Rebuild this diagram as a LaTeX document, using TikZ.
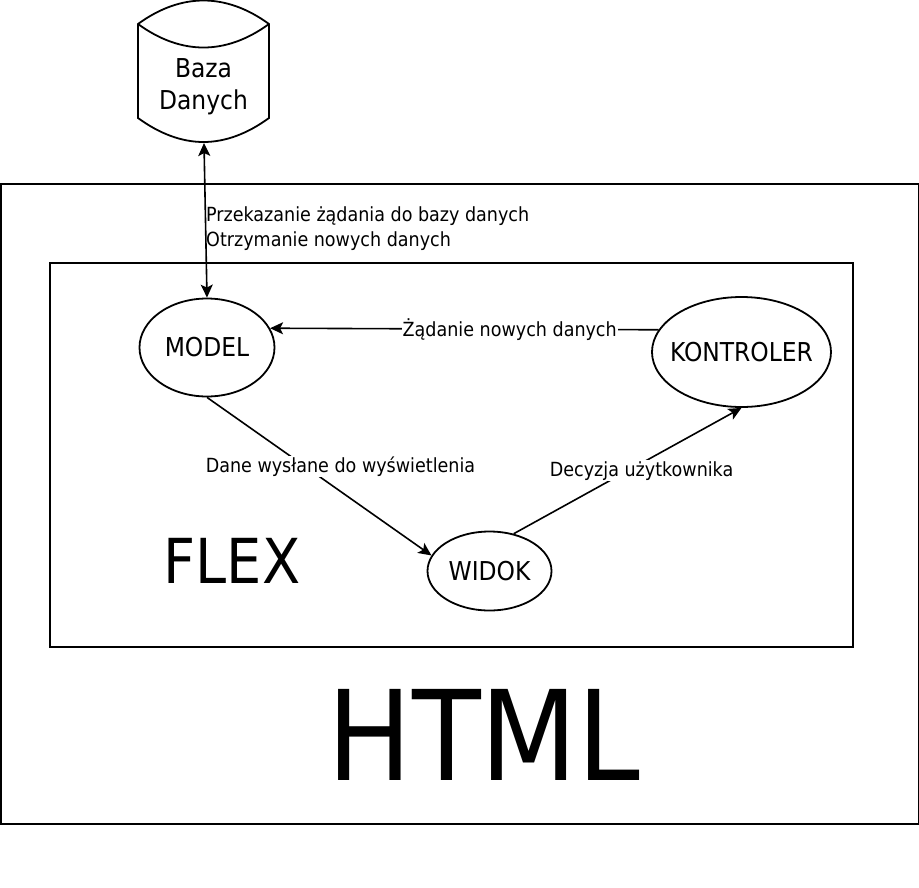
\documentclass[tikz,border=0pt]{standalone}
\usepackage{fontspec}
\setmainfont{DejaVu Sans Condensed}
\usetikzlibrary{arrows.meta, positioning, calc, shapes.geometric}
\begin{document}
\begin{tikzpicture}[x=1pt,y=-1pt,
  conn/.style={-{Stealth[length=13pt,width=12pt,inset=3pt]}, line width=1.6pt},
  lbl/.style={fill=white, inner sep=1pt, font=\fontsize{19.5}{23}\selectfont},
  blok/.style={draw, line width=1.8pt},
  elem/.style={draw, ellipse, line width=1.8pt, font=\fontsize{26}{30}\selectfont, inner xsep=-10pt, inner ysep=0pt}]
  \useasboundingbox (0,0) rectangle (919,887);

  % Outer boxes
  \node[blok, minimum width=918pt, minimum height=640pt, anchor=north west, inner sep=0pt] (html) at (0.3,183.3) {};
  \node[blok, minimum width=803pt, minimum height=384pt, anchor=north west, inner sep=0pt] (flex) at (49.3,261.7) {};
  \node[font=\fontsize{125}{130}\selectfont] (htmllabel) at (484,735) {HTML};
  \node[font=\fontsize{62}{66}\selectfont] (flexlabel) at (232,561) {FLEX};

  % Database
  \draw[line width=1.8pt] (138,24) .. controls (160,8) and (182,0.5) .. (203.5,0.5) .. controls (225,0.5) and (247,8) .. (269,24) -- (269,118) .. controls (247,134) and (225,142) .. (203.5,142) .. controls (182,142) and (160,134) .. (138,118) -- cycle;
  \draw[line width=1.8pt] (138,24) .. controls (160,40) and (182,47.5) .. (203.5,47.5) .. controls (225,47.5) and (247,40) .. (269,24);
  \node[font=\fontsize{26}{32}\selectfont, align=center] (baza) at (203.5,87) {Baza\\Danych};
  \coordinate (bazadol) at (204,143);

  % Elements
  \node[elem, minimum width=135pt, minimum height=98pt] (model) at (207,347.5) {MODEL};
  \node[elem, minimum width=179pt, minimum height=110pt] (kontroler) at (741.5,352) {KONTROLER};
  \node[elem, minimum width=124pt, minimum height=79pt] (widok) at (489.5,571) {WIDOK};

  % Connectors
  \draw[conn, {Stealth[length=13pt,width=12pt,inset=3pt]}-{Stealth[length=13pt,width=12pt,inset=3pt]}] (bazadol) -- (model.north);
  \draw[conn] (kontroler.165) -- node[lbl, pos=0.383] {Żądanie nowych danych} (model.17);
  \draw[conn] (model.south) -- node[lbl, pos=0.43, xshift=37pt, yshift=-1pt] {Dane wysłane do wyświetlenia} (widok.165);
  \draw[conn] (widok.57) -- node[lbl, pos=0.5, xshift=14pt] {Decyzja użytkownika} (kontroler.south);

  \node[font=\fontsize{19.5}{25}\selectfont, align=left, anchor=north west, inner sep=0pt] (opis) at (206,206) {Przekazanie żądania do bazy danych\\Otrzymanie nowych danych};
\end{tikzpicture}
\end{document}
